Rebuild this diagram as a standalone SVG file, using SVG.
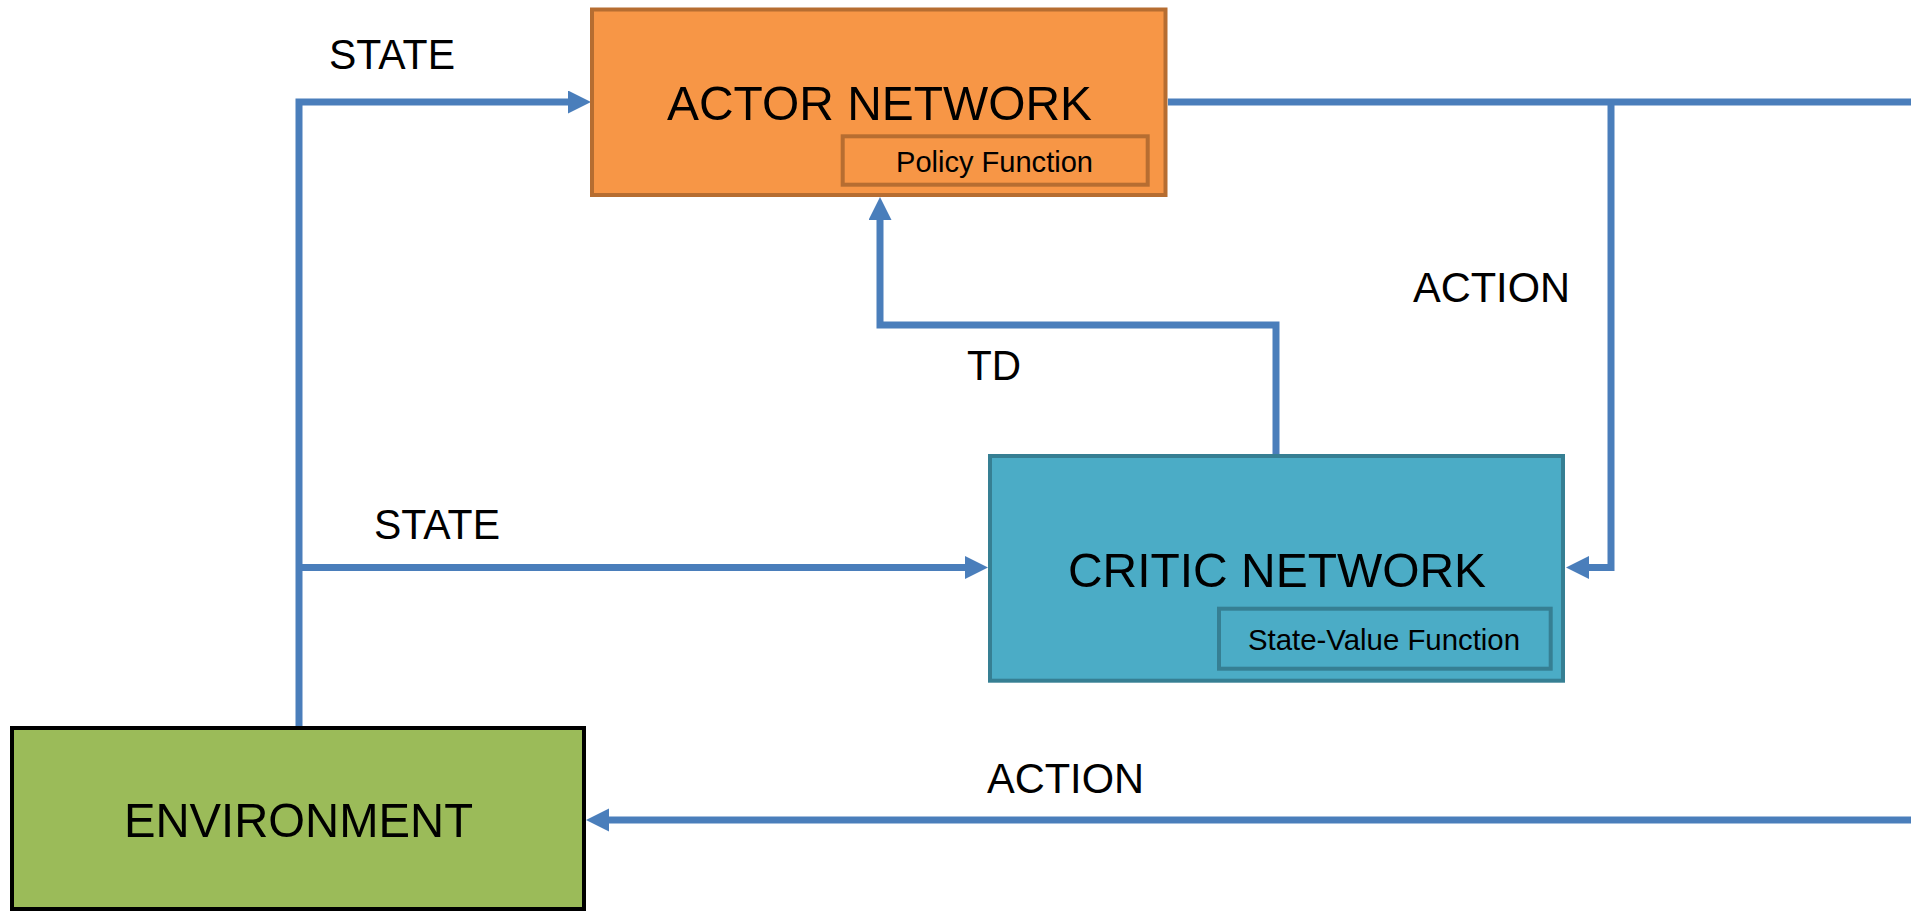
<svg xmlns="http://www.w3.org/2000/svg" width="1911" height="913" viewBox="0 0 1911 913">
<defs>
<style>
.lbl{font-family:"Liberation Sans",Arial,sans-serif;fill:#000;}
.big{font-size:49px;}
.mid{font-size:43px;}
.sml{font-size:29px;}
.con{fill:none;stroke:#4a7ebb;stroke-width:7;}
.actor{fill:#f79646;stroke:#b66d31;stroke-width:4;}
.critic{fill:#4bacc6;stroke:#367f93;stroke-width:4;}
.env{fill:#9bbb59;stroke:#000;stroke-width:4;}
</style>
<marker id="arr" markerUnits="userSpaceOnUse" markerWidth="24" markerHeight="24" refX="3" refY="11.5" orient="auto">
<path d="M0,0 L23,11.5 L0,23 z" fill="#4a7ebb"/>
</marker>
</defs>
<rect width="1911" height="913" fill="#fff"/>
<g id="connectors">
<path class="con" d="M299,726 V102 H571" marker-end="url(#arr)"/>
<path class="con" d="M299,567.5 H968" marker-end="url(#arr)"/>
<path class="con" d="M1168,102 H1911"/>
<path class="con" d="M1611,102 V567.5 H1586" marker-end="url(#arr)"/>
<path class="con" d="M1276,454 V325 H880 V217" marker-end="url(#arr)"/>
<path class="con" d="M1911,820 H606" marker-end="url(#arr)"/>
</g>
<g id="edge-labels">
<text class="lbl mid" x="329" y="69" textLength="126" lengthAdjust="spacingAndGlyphs">STATE</text>
<text class="lbl mid" x="374" y="539" textLength="126" lengthAdjust="spacingAndGlyphs">STATE</text>
<text class="lbl mid" x="1413" y="302" textLength="157" lengthAdjust="spacingAndGlyphs">ACTION</text>
<text class="lbl mid" x="967" y="380" textLength="54" lengthAdjust="spacingAndGlyphs">TD</text>
<text class="lbl mid" x="987" y="793" textLength="157" lengthAdjust="spacingAndGlyphs">ACTION</text>
</g>
<g id="actor">
<rect class="actor" x="592" y="9.5" width="573.5" height="185.5"/>
<text class="lbl big" x="667" y="120" textLength="425" lengthAdjust="spacingAndGlyphs">ACTOR NETWORK</text>
<g id="policy">
<rect class="actor" x="842.7" y="136.3" width="305" height="48.4"/>
<text class="lbl sml" x="896" y="171.5" textLength="197" lengthAdjust="spacingAndGlyphs">Policy Function</text>
</g>
</g>
<g id="critic">
<rect class="critic" x="990" y="456" width="573" height="224.7"/>
<text class="lbl big" x="1068" y="586.7" textLength="418" lengthAdjust="spacingAndGlyphs">CRITIC NETWORK</text>
<g id="statevalue">
<rect class="critic" x="1219" y="608.7" width="331.7" height="60"/>
<text class="lbl sml" x="1248" y="650" textLength="272" lengthAdjust="spacingAndGlyphs">State-Value Function</text>
</g>
</g>
<g id="environment">
<rect class="env" x="12" y="728" width="572" height="181"/>
<text class="lbl big" x="124" y="837" textLength="349" lengthAdjust="spacingAndGlyphs">ENVIRONMENT</text>
</g>
</svg>
